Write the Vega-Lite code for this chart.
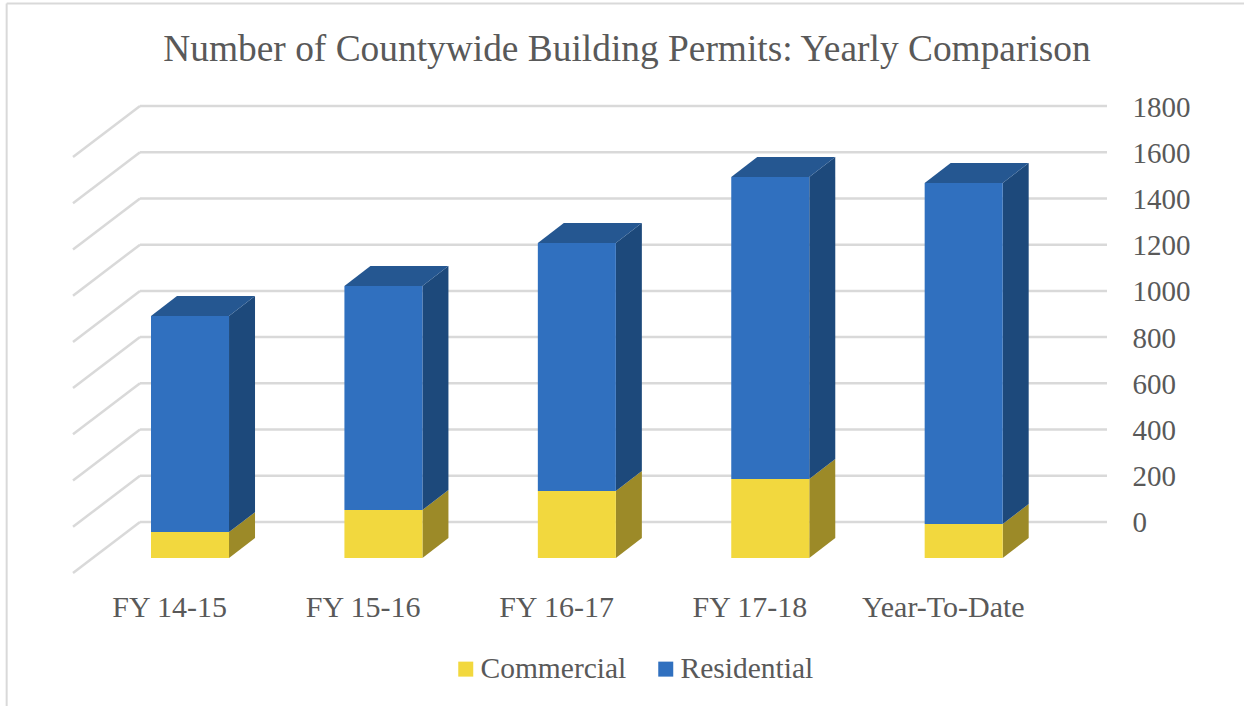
{"$schema":"https://vega.github.io/schema/vega-lite/v6.json","width":1034,"height":467,"autosize":"none","padding":{"left":73,"top":106,"right":137,"bottom":133},"background":"white","view":{"stroke":null},
"title":{"text":"Number of Countywide Building Permits: Yearly Comparison","font":"Liberation Serif","fontSize":37.4,"fontWeight":"normal","color":"#595959","anchor":"middle","frame":"group","dx":37,"offset":-66},
"data":{"values":[
{"period":"FY 14-15","series":"Commercial","value":112},{"period":"FY 14-15","series":"Residential","value":935},
{"period":"FY 15-16","series":"Commercial","value":208},{"period":"FY 15-16","series":"Residential","value":969},
{"period":"FY 16-17","series":"Commercial","value":290},{"period":"FY 16-17","series":"Residential","value":1073},
{"period":"FY 17-18","series":"Commercial","value":342},{"period":"FY 17-18","series":"Residential","value":1307},
{"period":"Year-To-Date","series":"Commercial","value":147},{"period":"Year-To-Date","series":"Residential","value":1476}]},
"transform":[
{"stack":"value","groupby":["period"],"sort":[{"field":"series","order":"ascending"}],"as":["v0","v1"]},
{"calculate":"indexof(['FY 14-15','FY 15-16','FY 16-17','FY 17-18','Year-To-Date'],datum.period)","as":"idx"},
{"calculate":"datum.idx-0.2017","as":"xl"},{"calculate":"datum.idx+0.2017","as":"xr"},
{"calculate":"datum.v0-155.8","as":"bot"},{"calculate":"datum.v1-155.8","as":"top"}
],
"layer":[
{"data":{"values":[{"tick":0},{"tick":200},{"tick":400},{"tick":600},{"tick":800},{"tick":1000},{"tick":1200},{"tick":1400},{"tick":1600},{"tick":1800}]},
"transform":[{"calculate":"datum.tick-220.7","as":"front"}],
"mark":{"type":"rule","color":"#d9d9d9","strokeWidth":2.5},
"encoding":{"x":{"datum":-0.2585,"type":"quantitative","scale":{"domain":[-0.605,4.741],"nice":false,"zero":false},"axis":null},"x2":{"datum":4.741},
"y":{"field":"tick","type":"quantitative","scale":{"domain":[-220.7,1800],"nice":false,"zero":false},"axis":{"orient":"right","title":null,"format":"d","values":[0,200,400,600,800,1000,1200,1400,1600,1800],"ticks":false,"domain":false,"grid":false,"labelFont":"Liberation Serif","labelFontSize":29,"labelColor":"#595959","labelPadding":25,"labelAlign":"left","labelOffset":1}}}},
{"data":{"values":[{"tick":0},{"tick":200},{"tick":400},{"tick":600},{"tick":800},{"tick":1000},{"tick":1200},{"tick":1400},{"tick":1600},{"tick":1800}]},
"transform":[{"calculate":"datum.tick-220.7","as":"front"}],
"mark":{"type":"rule","color":"#d9d9d9","strokeWidth":2.5},
"encoding":{"x":{"datum":-0.2585,"type":"quantitative","scale":{"domain":[-0.605,4.741],"nice":false,"zero":false}},"x2":{"datum":-0.605},
"y":{"field":"tick","type":"quantitative","scale":{"domain":[-220.7,1800],"nice":false,"zero":false}},"y2":{"field":"front"}}},
{"data":{"values":[{"edge":"frame"}]},"mark":{"type":"rule","color":"#d9d9d9","strokeWidth":2},
"encoding":{"x":{"datum":-0.948,"type":"quantitative","scale":{"domain":[-0.605,4.741],"nice":false,"zero":false}},
"y":{"datum":2243,"type":"quantitative","scale":{"domain":[-220.7,1800],"nice":false,"zero":false}},"y2":{"datum":-796}}},
{"data":{"values":[{"edge":"frame"}]},"mark":{"type":"rule","color":"#d9d9d9","strokeWidth":2},
"encoding":{"x":{"datum":-0.948,"type":"quantitative","scale":{"domain":[-0.605,4.741],"nice":false,"zero":false}},"x2":{"datum":5.45},
"y":{"datum":2243,"type":"quantitative","scale":{"domain":[-220.7,1800],"nice":false,"zero":false}}}},
{"transform":[{"calculate":"datum.series+' side'","as":"face"},{"calculate":"[0,1]","as":"k"},{"flatten":["k"]},
{"calculate":"datum.xr+datum.k*0.1344","as":"px"},{"calculate":"datum.bot+datum.k*86.5","as":"py0"},{"calculate":"datum.top+datum.k*86.5","as":"py1"}],
"mark":{"type":"area","orient":"vertical","interpolate":"linear"},
"encoding":{"x":{"field":"px","type":"quantitative","scale":{"domain":[-0.605,4.741],"nice":false,"zero":false}},
"y":{"field":"py0","type":"quantitative","stack":null,"scale":{"domain":[-220.7,1800],"nice":false,"zero":false}},"y2":{"field":"py1"},
"detail":{"field":"period"},
"color":{"field":"face","type":"nominal"}}},
{"transform":[{"filter":"datum.series=='Residential'"},{"calculate":"datum.series+' top'","as":"face"},{"calculate":"[0,1,2,3]","as":"k"},{"flatten":["k"]},
{"calculate":"datum.xl+[0,0.1344,0.4034,0.5378][datum.k]","as":"px"},
{"calculate":"datum.k==3?datum.top+86.5:datum.top","as":"py0"},{"calculate":"datum.k==0?datum.top:datum.top+86.5","as":"py1"}],
"mark":{"type":"area","orient":"vertical","interpolate":"linear"},
"encoding":{"x":{"field":"px","type":"quantitative","scale":{"domain":[-0.605,4.741],"nice":false,"zero":false}},
"y":{"field":"py0","type":"quantitative","stack":null,"scale":{"domain":[-220.7,1800],"nice":false,"zero":false}},"y2":{"field":"py1"},
"detail":{"field":"period"},
"color":{"field":"face","type":"nominal"}}},
{"mark":{"type":"rect"},
"encoding":{"x":{"field":"xl","type":"quantitative","scale":{"domain":[-0.605,4.741],"nice":false,"zero":false}},"x2":{"field":"xr"},
"y":{"field":"bot","type":"quantitative","scale":{"domain":[-220.7,1800],"nice":false,"zero":false}},"y2":{"field":"top"},
"color":{"field":"series","type":"nominal","scale":{"domain":["Commercial","Residential","Commercial side","Residential side","Residential top"],"range":["#f2d83e","#3070bf","#9c8a28","#1d497b","#255791"]},
"legend":{"title":null,"values":["Commercial","Residential"],"orient":"none","legendX":378,"legendY":548,"direction":"horizontal","symbolType":"square","symbolSize":225,"symbolStrokeWidth":0,"labelFont":"Liberation Serif","labelFontSize":29.5,"labelColor":"#595959","labelOffset":0,"columnPadding":24,"labelLimit":300}}}},
{"transform":[{"filter":"datum.series=='Commercial'"},{"calculate":"datum.idx-0.105","as":"lx"}],
"mark":{"type":"text","font":"Liberation Serif","fontSize":30,"color":"#595959","dy":35,"baseline":"middle","align":"center"},
"encoding":{"x":{"field":"lx","type":"quantitative","scale":{"domain":[-0.605,4.741],"nice":false,"zero":false}},
"y":{"datum":-220.7,"type":"quantitative","scale":{"domain":[-220.7,1800],"nice":false,"zero":false}},
"text":{"field":"period"}}}
]}
